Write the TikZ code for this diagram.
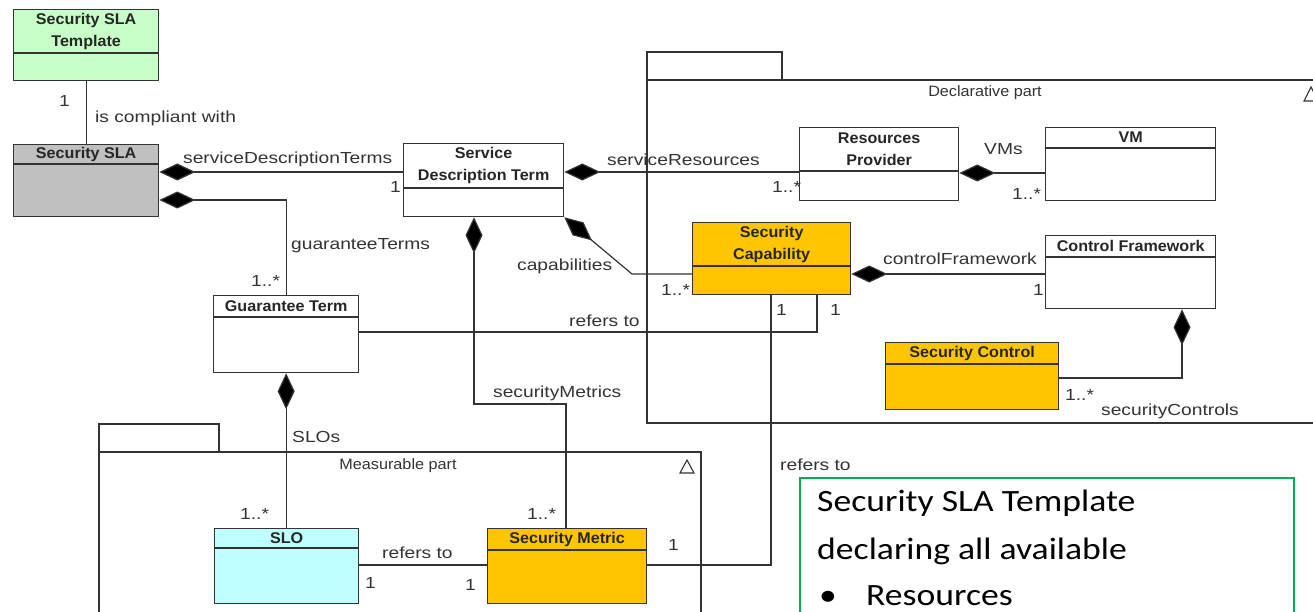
\documentclass[tikz,border=0pt]{standalone}
\usepackage{fontspec}
\setmainfont{Liberation Sans}
\newfontfamily\labfont{Liberation Sans}[FakeStretch=1.2]
\newfontfamily\clsfont{Liberation Sans}[FakeStretch=1.04]
\newfontfamily\pkgfont{Liberation Sans}[FakeStretch=1.08]
\newfontfamily\notefont{Carlito}[FakeStretch=1.15]
\usetikzlibrary{arrows.meta,calc}

\definecolor{ink}{HTML}{333333}
\definecolor{tplgreen}{HTML}{C8FFC8}
\definecolor{slagray}{HTML}{C0C0C0}
\definecolor{capgold}{HTML}{FFC600}
\definecolor{slocyan}{HTML}{C0FFFF}
\definecolor{notegreen}{RGB}{0,176,80}

\tikzset{
  cls/.style={draw=ink, line width=1.3pt, inner sep=0pt, anchor=north west},
  ttl/.style={font=\clsfont\bfseries\fontsize{15.5}{22}\selectfont, text=black!85, align=center, inner sep=0pt},
  lab/.style={font=\labfont\fontsize{16}{19}\selectfont, text=ink, inner sep=0pt, anchor=base west},
  pkglab/.style={font=\pkgfont\fontsize{15}{18}\selectfont, text=ink, inner sep=0pt, anchor=base},
  wire/.style={draw=ink, line width=1.2pt},
  comp/.style={wire, {Diamond[length=36pt,width=17pt,fill=black]}-},
  frame/.style={draw=ink, line width=1.2pt},
  notebox/.style={draw=notegreen, color=notegreen, line width=1.8pt, inner sep=0pt, anchor=north west},
  notetext/.style={font=\notefont\fontsize{31}{38}\selectfont, text=black, inner sep=0pt, anchor=base west}
}

% UML class: name, x, y, width, height, title band, fill, title
\newcommand\umlbox[8]{%
  \node[cls, fill=#7, minimum width=#4pt, minimum height=#5pt] (#1) at (#2,#3) {};
  \draw[draw=ink, line width=1.1pt] ([yshift=-#6pt]#1.north west) -- ([yshift=-#6pt]#1.north east);
  \node[ttl] (#1-title) at ([yshift=-#6pt*0.5]#1.north) {#8};
}

\begin{document}
\begin{tikzpicture}[x=1pt,y=-1pt]
\clip (0,0) rectangle (1313,612);
\fill[white] (0,0) rectangle (1313,612);

% packages
\draw[frame] (647,52) rectangle (782,80);
\draw[frame] (1330,80) -- (647,80) -- (647,423) -- (1330,423);
\node[pkglab] (declabel) at (985,97) {Declarative part};
\draw[line width=1.1pt, draw=ink] (1304,101) -- (1311,87) -- (1318,101) -- cycle;

\draw[frame] (99,424) rectangle (219,452);
\draw[frame] (99,630) -- (99,452) -- (701,452) -- (701,630);
\node[pkglab] (measlabel) at (398,469) {Measurable part};
\draw[line width=1.1pt, draw=ink] (680,473) -- (687,460) -- (694,473) -- cycle;

% classes
\umlbox{tpl}{13}{9}{145}{71}{44}{tplgreen}{Security SLA\\Template}
\umlbox{sla}{13}{144}{145}{72}{20}{slagray}{Security SLA}
\umlbox{sdt}{403}{143}{160}{73}{45}{white}{Service\\Description Term}
\umlbox{gt}{213}{295}{145}{77}{22}{white}{Guarantee Term}
\umlbox{rp}{799}{127}{159}{73}{44}{white}{Resources\\Provider}
\umlbox{vm}{1045}{127}{170}{73}{21}{white}{VM}
\umlbox{sc}{692}{222}{158}{72}{44}{capgold}{Security\\Capability}
\umlbox{cf}{1045}{235}{170}{73}{22}{white}{Control Framework}
\umlbox{sctl}{885}{342}{173}{67}{22}{capgold}{Security Control}
\umlbox{slo}{214}{528}{144}{75}{20}{slocyan}{SLO}
\umlbox{sm}{487}{528}{159}{75}{22}{capgold}{Security Metric}

% connectors
\coordinate (capbend) at (632,274);
\coordinate (metbend) at (566,404);
\draw[wire] (tpl.south) -- (sla.north);
\draw[comp] (sla.east |- 0,172) -- (sdt.west |- 0,172);
\draw[comp] (sla.east |- 0,200) -| (gt.north);
\draw[comp] (sdt.east |- 0,172) -- (rp.west |- 0,172);
\draw[comp] (rp.east |- 0,173) -- (vm.west |- 0,173);
\draw[comp] (sdt.south east) -- (capbend) -- (sc.west |- capbend);
\draw[comp] (sc.east |- 0,274) -- (cf.west |- 0,274);
\draw[comp] (cf.south -| 1182,0) |- (sctl.east |- 0,378);
\draw[wire] (gt.east |- 0,332) -| (sc.south -| 817,0);
\draw[comp] (sdt.south -| 474,0) |- (metbend) -- (sm.north -| metbend);
\draw[comp] (gt.south) -- (slo.north -| gt.south);
\draw[wire] (slo.east |- 0,565) -- (sm.west |- 0,565);
\draw[wire] (sc.south -| 771,0) |- (sm.east |- 0,565);

% association labels and multiplicities
\node[lab] (m-tpl) at (59,107) {1};
\node[lab] (a-compl) at (95,123) {is compliant with};
\node[lab] (a-sdt) at (183,164) {serviceDescriptionTerms};
\node[lab] (m-sdt) at (390,193) {1};
\node[lab] (a-gt) at (291,249) {guaranteeTerms};
\node[lab] (m-gt) at (251,286) {1..*};
\node[lab] (a-res) at (607,166) {serviceResources};
\node[lab] (m-rp) at (772,193) {1..*};
\node[lab] (a-vms) at (984,155) {VMs};
\node[lab] (m-vm) at (1012,200) {1..*};
\node[lab] (a-cap) at (517,270) {capabilities};
\node[lab] (m-sc) at (661,295) {1..*};
\node[lab] (a-cf) at (883,264) {controlFramework};
\node[lab] (m-cf) at (1033,295) {1};
\node[lab] (m-scsm) at (776,315) {1};
\node[lab] (m-scgt) at (830,315) {1};
\node[lab] (a-ref1) at (569,326) {refers to};
\node[lab] (a-met) at (493,397) {securityMetrics};
\node[lab] (m-sctl) at (1065,400) {1..*};
\node[lab] (a-sctl) at (1101,415) {securityControls};
\node[lab] (a-slos) at (292,442) {SLOs};
\node[lab] (a-ref2) at (780,470) {refers to};
\node[lab] (m-slo) at (240,519) {1..*};
\node[lab] (m-sm) at (527,519) {1..*};
\node[lab] (m-smr) at (668,550) {1};
\node[lab] (a-ref3) at (382,558) {refers to};
\node[lab] (m-slo2) at (365,588) {1};
\node[lab] (m-sm2) at (465,590) {1};

% note
\node[notebox, minimum width=494pt, minimum height=160pt] (note) at (799,477) {};
\node[notetext] (note1) at (817,511) {Security SLA Template};
\node[notetext] (note2) at (817,559) {declaring all available};
\node[notetext] (note3) at (819,605) {•};
\node[notetext] (note4) at (866,605) {Resources};
\end{tikzpicture}
\end{document}
